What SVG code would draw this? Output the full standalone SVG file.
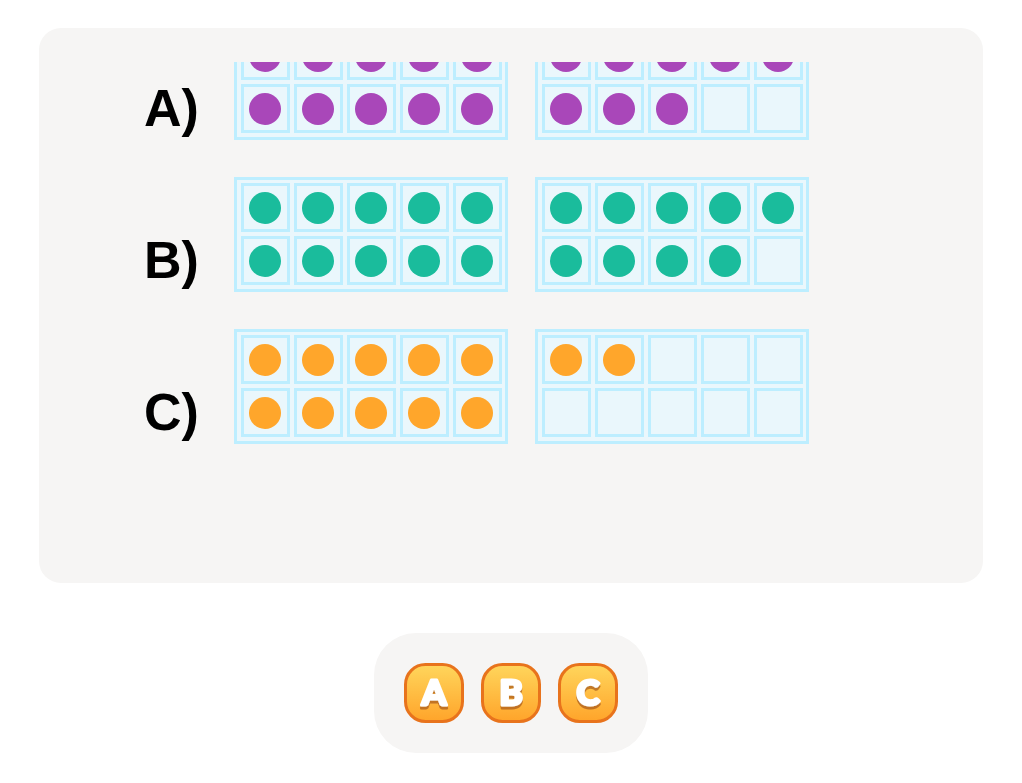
<svg xmlns="http://www.w3.org/2000/svg" width="1022" height="783" viewBox="0 0 1022 783">
<defs>
<style>
.frame{fill:#eaf7fc;stroke:#bdeeff;stroke-width:3}
.cell{fill:#eaf7fc;stroke:#bdeeff;stroke-width:3}
.p{fill:#a947b9}
.g{fill:#1abc9c}
.o{fill:#ffa62b}
.lbl{font-family:"Liberation Sans",Arial,sans-serif;font-weight:bold;font-size:52px;fill:#000}
.btn{stroke:#e8731c;stroke-width:3;fill:url(#bg)}
.bt{font-family:Lato,"Liberation Sans",sans-serif;font-weight:900;font-size:35px;fill:#fff;stroke:#fff;stroke-width:3;stroke-linejoin:round;text-anchor:middle;filter:url(#sh)}
</style>
<filter id="sh" x="-30%" y="-30%" width="160%" height="170%">
<feDropShadow dx="0" dy="3" stdDeviation="0.6" flood-color="#9a4a12" flood-opacity="0.6"/>
</filter>
<linearGradient id="bg" x1="0" y1="0" x2="0" y2="1">
<stop offset="0" stop-color="#ffd65c"/>
<stop offset="1" stop-color="#ffa42a"/>
</linearGradient>
<clipPath id="clip"><rect x="39" y="62" width="944" height="521"/></clipPath>
<g id="cells">
<rect class="cell" x="8.5" y="7.5" width="46" height="46"/>
<rect class="cell" x="61.5" y="7.5" width="46" height="46"/>
<rect class="cell" x="114.5" y="7.5" width="46" height="46"/>
<rect class="cell" x="167.5" y="7.5" width="46" height="46"/>
<rect class="cell" x="220.5" y="7.5" width="46" height="46"/>
<rect class="cell" x="8.5" y="60.5" width="46" height="46"/>
<rect class="cell" x="61.5" y="60.5" width="46" height="46"/>
<rect class="cell" x="114.5" y="60.5" width="46" height="46"/>
<rect class="cell" x="167.5" y="60.5" width="46" height="46"/>
<rect class="cell" x="220.5" y="60.5" width="46" height="46"/>
</g>
</defs>
<rect x="0" y="0" width="1022" height="783" fill="#fff"/>
<rect x="39" y="28" width="944" height="555" rx="22" fill="#f6f5f4"/>

<g clip-path="url(#clip)">
<g id="rowA">
<text class="lbl" x="144" y="126">A)</text>
<g id="A1" transform="translate(234,25)">
<rect class="frame" x="1.5" y="1.5" width="271" height="112"/>
<use href="#cells"/>
<g class="p"><circle cx="31" cy="31" r="16"/><circle cx="84" cy="31" r="16"/><circle cx="137" cy="31" r="16"/><circle cx="190" cy="31" r="16"/><circle cx="243" cy="31" r="16"/>
<circle cx="31" cy="84" r="16"/><circle cx="84" cy="84" r="16"/><circle cx="137" cy="84" r="16"/><circle cx="190" cy="84" r="16"/><circle cx="243" cy="84" r="16"/></g>
</g>
<g id="A2" transform="translate(535,25)">
<rect class="frame" x="1.5" y="1.5" width="271" height="112"/>
<use href="#cells"/>
<g class="p"><circle cx="31" cy="31" r="16"/><circle cx="84" cy="31" r="16"/><circle cx="137" cy="31" r="16"/><circle cx="190" cy="31" r="16"/><circle cx="243" cy="31" r="16"/>
<circle cx="31" cy="84" r="16"/><circle cx="84" cy="84" r="16"/><circle cx="137" cy="84" r="16"/></g>
</g>
</g>

<g id="rowB">
<text class="lbl" x="144" y="278">B)</text>
<g id="B1" transform="translate(234,177)">
<rect class="frame" x="1.5" y="1.5" width="271" height="112"/>
<use href="#cells"/>
<g class="g"><circle cx="31" cy="31" r="16"/><circle cx="84" cy="31" r="16"/><circle cx="137" cy="31" r="16"/><circle cx="190" cy="31" r="16"/><circle cx="243" cy="31" r="16"/>
<circle cx="31" cy="84" r="16"/><circle cx="84" cy="84" r="16"/><circle cx="137" cy="84" r="16"/><circle cx="190" cy="84" r="16"/><circle cx="243" cy="84" r="16"/></g>
</g>
<g id="B2" transform="translate(535,177)">
<rect class="frame" x="1.5" y="1.5" width="271" height="112"/>
<use href="#cells"/>
<g class="g"><circle cx="31" cy="31" r="16"/><circle cx="84" cy="31" r="16"/><circle cx="137" cy="31" r="16"/><circle cx="190" cy="31" r="16"/><circle cx="243" cy="31" r="16"/>
<circle cx="31" cy="84" r="16"/><circle cx="84" cy="84" r="16"/><circle cx="137" cy="84" r="16"/><circle cx="190" cy="84" r="16"/></g>
</g>
</g>

<g id="rowC">
<text class="lbl" x="144" y="430">C)</text>
<g id="C1" transform="translate(234,329)">
<rect class="frame" x="1.5" y="1.5" width="271" height="112"/>
<use href="#cells"/>
<g class="o"><circle cx="31" cy="31" r="16"/><circle cx="84" cy="31" r="16"/><circle cx="137" cy="31" r="16"/><circle cx="190" cy="31" r="16"/><circle cx="243" cy="31" r="16"/>
<circle cx="31" cy="84" r="16"/><circle cx="84" cy="84" r="16"/><circle cx="137" cy="84" r="16"/><circle cx="190" cy="84" r="16"/><circle cx="243" cy="84" r="16"/></g>
</g>
<g id="C2" transform="translate(535,329)">
<rect class="frame" x="1.5" y="1.5" width="271" height="112"/>
<use href="#cells"/>
<g class="o"><circle cx="31" cy="31" r="16"/><circle cx="84" cy="31" r="16"/></g>
</g>
</g>
</g>

<rect x="374" y="633" width="274" height="120" rx="42" fill="#f6f5f4"/>
<g id="btnA">
<rect class="btn" x="405.5" y="664.5" width="57" height="57" rx="20"/>
<text class="bt" x="434" y="705">A</text>
</g>
<g id="btnB">
<rect class="btn" x="482.5" y="664.5" width="57" height="57" rx="20"/>
<text class="bt" x="511" y="705">B</text>
</g>
<g id="btnC">
<rect class="btn" x="559.5" y="664.5" width="57" height="57" rx="20"/>
<text class="bt" x="588" y="705">C</text>
</g>
</svg>
